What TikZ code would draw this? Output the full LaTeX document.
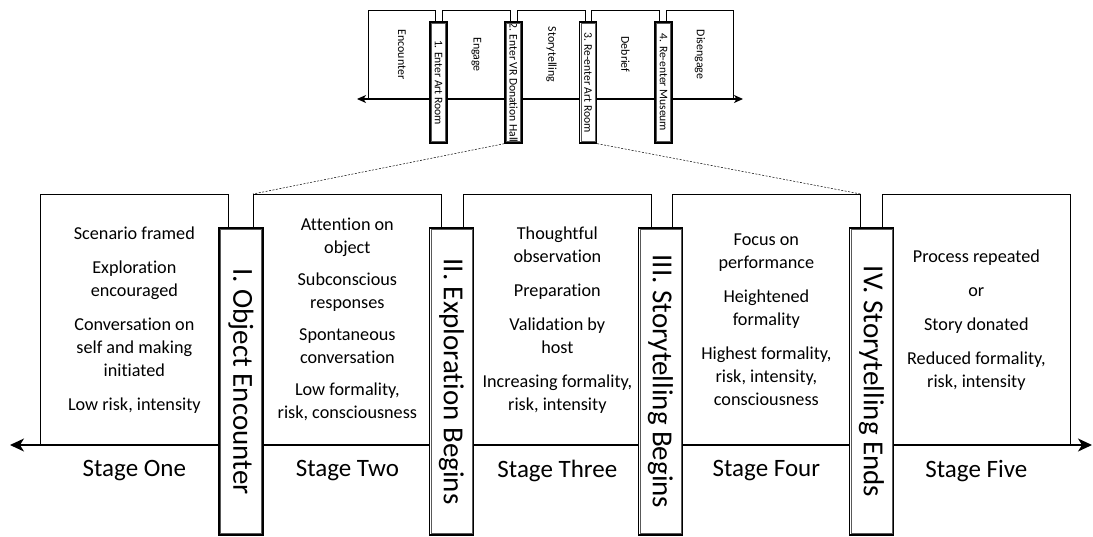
\documentclass[tikz,border=0pt]{standalone}
\usepackage{fontspec}
\setmainfont{Carlito}[Ligatures=NoCommon]
\usetikzlibrary{arrows.meta,positioning}
\def \gap{\\[11pt]}
\def \inset{2.2pt}

\begin{document}
\begin{tikzpicture}[x=1pt,y=-1pt,
	phase/.style={draw, fill=white, inner sep=0pt, line width=0.7pt, align=center,
		font=\fontsize{18.2}{23}\selectfont, minimum width=188, minimum height=251, anchor=north west},
	minphase/.style={draw, fill=white, inner sep=0pt, line width=0.6pt, rotate=-90,
		font=\fontsize{11.9}{14}\selectfont, minimum width=89, minimum height=67.5},
	gate/.style={draw, fill=white, inner sep=0pt, line width=1.8pt, rotate=-90,
		font=\fontsize{29}{34}\selectfont, minimum width=307, minimum height=44},
	mingate/.style={draw, fill=white, inner sep=0pt, line width=1.3pt, rotate=-90,
		font=\fontsize{11.6}{14}\selectfont, minimum width=121, minimum height=17},
	stage/.style={inner sep=0pt, font=\fontsize{25}{30}\selectfont},
	timeline/.style={{Stealth[length=14pt,width=13pt,inset=4pt]}-{Stealth[length=14pt,width=13pt,inset=4pt]}, line width=1.5pt},
	mintimeline/.style={{Stealth[length=9pt,width=8pt,inset=2.5pt]}-{Stealth[length=9pt,width=8pt,inset=2.5pt]}, line width=1.2pt},
	zoomline/.style={dash pattern=on 2pt off 1.5pt, line width=0.5pt}]
\useasboundingbox (0,0) rectangle (1093,536);

% small overview
\scope
	\node[minphase] (p1) at (402,54.5) {Encounter};
	\node[minphase] (p2) at (476.5,54.5) {Engage};
	\node[minphase] (p3) at (551.5,54.5) {Storytelling};
	\node[minphase] (p4) at (625.5,54.5) {Debrief};
	\node[minphase] (p5) at (700,54.5) {Disengage};
	\coordinate (tl) at (357,99);
	\coordinate (tr) at (743,99);
	\draw[mintimeline] (tl) -- (tr); % overview axis
	\node[mingate] (t1) at (438.5,82.5) {1. Enter Art Room};
	\node[mingate] (t2) at (513.5,82.5) {2. Enter VR Donation Hall};
	\node[mingate] (t3) at (588,82.5) {3. Re-enter Art Room};
	\node[mingate] (t4) at (663.5,82.5) {4. Re-enter Museum};
\endscope

% stages
\node[phase] (b1) at (40,194) {Scenario framed\gap Exploration\\encouraged\gap
	Conversation on\\self and making\\initiated\gap Low risk, intensity};
\node[phase] (b2) at (253,194) {Attention on\\object\\[9pt] Subconscious\\responses\\[9pt]
	Spontaneous\\conversation\\[9pt] Low formality,\\risk, consciousness};
\node[phase] (b3) at (463,194) {Thoughtful\\observation\gap Preparation\gap
	Validation by\\host\gap Increasing formality,\\risk, intensity};
\node[phase] (b4) at (672,194) {Focus on\\performance\gap Heightened\\formality\gap
	Highest formality,\\risk, intensity,\\consciousness};
\node[phase] (b5) at (882,194) {Process repeated\gap or\gap Story donated\gap
	Reduced formality,\\risk, intensity};
\foreach \i/\s in {1/One,2/Two,3/Three,4/Four,5/Five}
	\node[stage] (s\i) at ([yshift=-25pt]b\i.south) {Stage \s};

\coordinate (bl) at (10,445);
\coordinate (br) at (1092,445);
\draw[timeline] (bl) -- (br); % main axis

% thresholds
\node[gate] (g1) at (241,381.5) {I. Object Encounter};
\node[gate] (g2) at (451.5,381.5) {II. Exploration Begins};
\node[gate] (g3) at (660.5,381.5) {III. Storytelling Begins};
\node[gate] (g4) at (871.5,381.5) {IV. Storytelling Ends};
\foreach \g in {g1,g2,g3,g4,t1,t2,t3,t4}
	\draw[line width=0.5pt, gray!70!black] ([shift={(-\inset,-\inset)}]\g.north west)
		rectangle ([shift={(\inset,\inset)}]\g.south east);

% zoom lines
\draw[zoomline] (t2.south east) -- (b2.north west);
\draw[zoomline] (t3.north east) -- (b4.north east);
\end{tikzpicture}
\end{document}
